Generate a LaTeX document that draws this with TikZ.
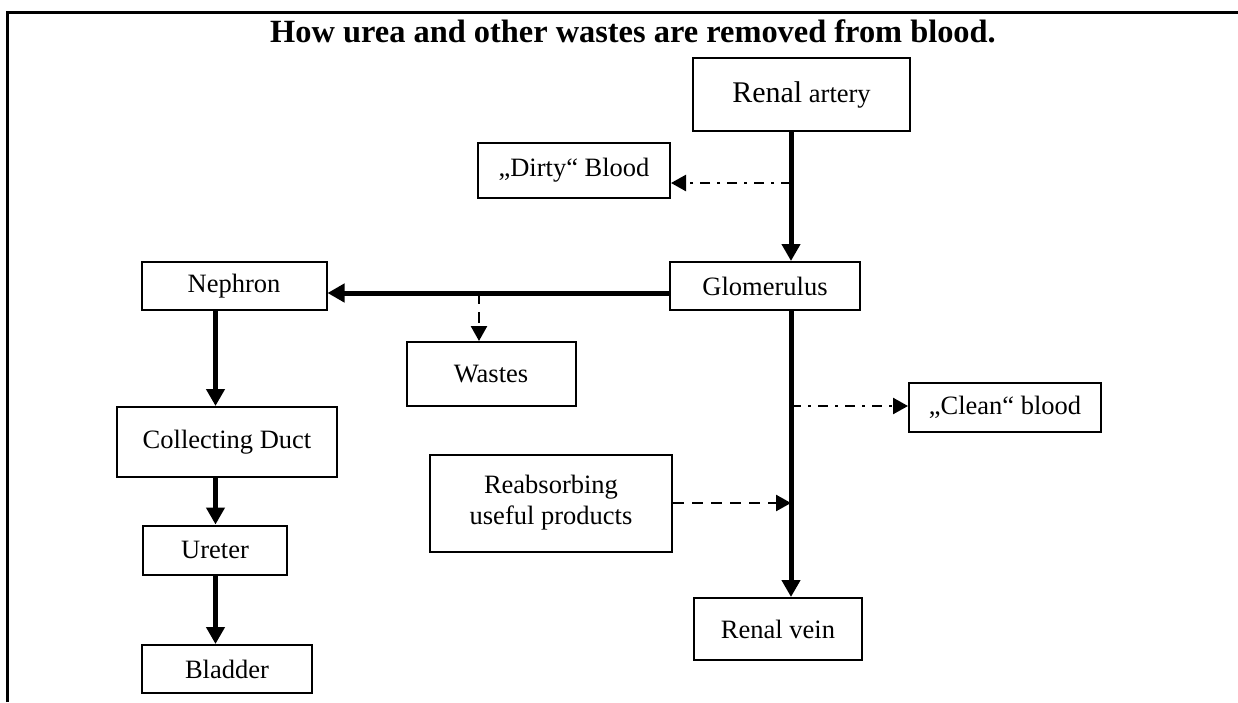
\documentclass[tikz,border=0pt]{standalone}
\usepackage{fontspec}
\setmainfont{Liberation Serif}
\usetikzlibrary{arrows.meta, positioning}
\tikzstyle{organ} = [draw, line width=2pt, rectangle, inner sep=0pt, align=center, font=\fontsize{26.5}{31}\selectfont]
\tikzstyle{flow} = [line width=5pt, -{Triangle[length=17pt, width=18pt]}]
\tikzstyle{sidedash} = [line width=2.5pt, dash pattern=on 11pt off 8pt, -{Triangle[length=15pt, width=16pt]}]
\tikzstyle{sidedot} = [line width=2.5pt, dash pattern=on 10pt off 7pt on 3pt off 7pt, -{Triangle[length=15pt, width=16pt]}]
\tikzstyle{heading} = [font=\bfseries\fontsize{32.4}{36}\selectfont]

\begin{document}
\begin{tikzpicture}[x=1pt, y=-1pt]
	\useasboundingbox (0,0) rectangle (1238,702);
	\draw[line width=3pt] (7,702) -- (7,12) -- (1238,12);
	\node[heading, anchor=base] (title) at (633,42) {How urea and other wastes are removed from blood.};
	% blood side
	\node[organ, minimum width=217pt, minimum height=73pt] (artery) at (801.5,94.5) {{\fontsize{30}{34}\selectfont Renal} artery};
	\node[organ, minimum width=192pt, minimum height=55pt] (dirty) at (574,170) {„Dirty“ Blood};
	\node[organ, minimum width=190pt, minimum height=48pt] (glom) at (765,286) {Glomerulus};
	\node[organ, minimum width=192pt, minimum height=49pt] (clean) at (1005,407) {„Clean“ blood};
	\node[organ, minimum width=242pt, minimum height=97pt] (reab) at (551,503) {Reabsorbing\\useful products};
	\node[organ, minimum width=168pt, minimum height=62pt] (vein) at (778,629) {Renal vein};
	% urine side
	\node[organ, minimum width=185pt, minimum height=48pt] (neph) at (234,286) {Nephron};
	\node[organ, minimum width=169pt, minimum height=64pt] (wastes) at (491,374) {Wastes};
	\node[organ, minimum width=220pt, minimum height=70pt] (coll) at (227,442) {Collecting Duct};
	\node[organ, minimum width=144pt, minimum height=49pt] (ureter) at (215,550) {Ureter};
	\node[organ, minimum width=170pt, minimum height=48pt] (bladder) at (227,669) {Bladder};
	\coordinate (trunk) at (791,0);
	\coordinate (fork) at (479,293);
	\coordinate (tube) at (215.5,0);
	\coordinate (split1) at (791,183);
	\coordinate (split2) at (791,406);
	\coordinate (join) at (791,503);
	\draw[flow] (artery.south -| trunk) -- (glom.north -| trunk);
	\draw[flow] (glom.south -| trunk) -- (vein.north -| trunk);
	\draw[flow] (glom.west |- fork) -- (neph.east |- fork);
	\draw[flow] (neph.south -| tube) -- (coll.north -| tube);
	\draw[flow] (coll.south -| tube) -- (ureter.north -| tube);
	\draw[flow] (ureter.south -| tube) -- (bladder.north -| tube);
	\draw[sidedot] (split1) -- (dirty.east |- split1);
	\draw[sidedot] (split2) -- (clean.west |- split2);
	\draw[sidedash] (fork) -- (fork |- wastes.north);
	\draw[sidedash] (reab.east |- join) -- (join);
\end{tikzpicture}
\end{document}
